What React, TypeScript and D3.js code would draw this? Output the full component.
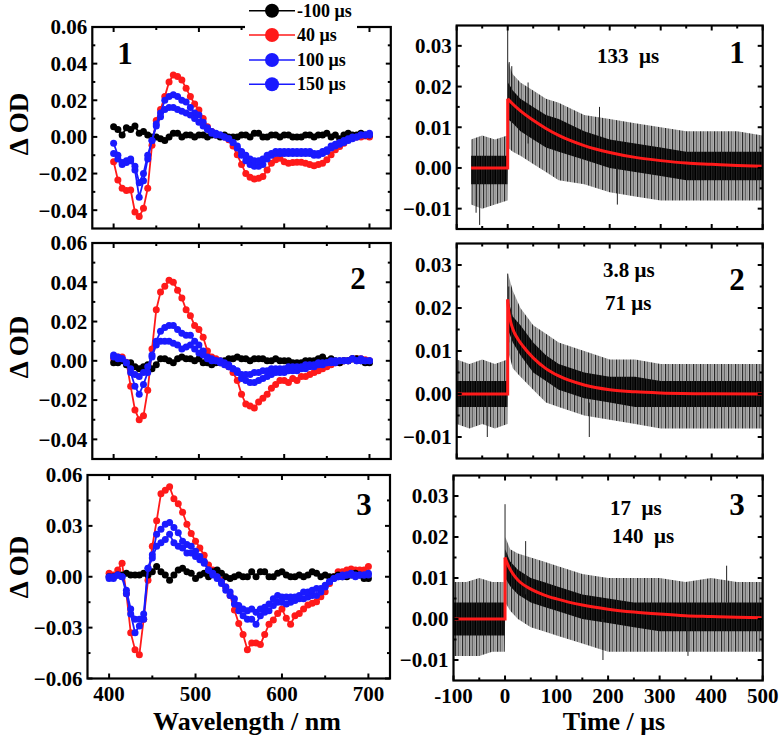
import React from "react";
import * as d3 from "d3";

// ---------------- DATA ----------------
const WAVELENGTHS = [
  400, 405, 410, 415, 420, 425, 430, 435, 440, 445,
  450, 455, 460, 465, 470, 475, 480, 485, 490, 495,
  500, 505, 510, 515, 520, 525, 530, 535, 540, 545,
  550, 555, 560, 565, 570, 575, 580, 585, 590, 595,
  600, 605, 610, 615, 620, 625, 630, 635, 640, 645,
  650, 655, 660, 665, 670, 675, 680, 685, 690, 695,
  700,
];

const DELAY_LABELS = ["-100 μs", "40 μs", "100 μs", "150 μs"];
const DELAY_COLORS = ["#000000", "#ff1a1a", "#1a1aff", "#1a1aff"];

// Panel 1 spectra
const P1_M100 = [
  0.0055, 0.004, 0.001, 0.005, 0.004, 0.006, 0.002, 0.003, 0.001, 0.0,
  0.0, -0.001, -0.002, 0.0, 0.002, 0.002, 0.0, 0.001, 0.001, 0.0,
  0.001, 0.001, 0.0, 0.001, 0.001, 0.0, 0.001, 0.0, 0.0, 0.0,
  0.001, 0.001, 0.0, 0.002, 0.002, 0.0, 0.0, 0.001, 0.001, 0.0,
  0.001, 0.001, 0.0, 0.0, 0.0, 0.001, 0.001, 0.0, 0.001, 0.001,
  0.002, 0.0, 0.001, -0.001, 0.001, 0.002, 0.001, 0.001, 0.002, 0.001,
  0.001,
];
const P1_40 = [
  -0.0135, -0.0235, -0.028, -0.0292, -0.029, -0.041, -0.0435, -0.039, -0.028, -0.0045,
  0.009, 0.015, 0.022, 0.03, 0.0338, 0.033, 0.031, 0.0265, 0.022, 0.018,
  0.0147, 0.01, 0.0056, 0.003, 0.001, 0.0005, 0.0, -0.0016, -0.005, -0.0098,
  -0.015, -0.02, -0.022, -0.023, -0.0225, -0.0216, -0.018, -0.0144, -0.0125, -0.0116,
  -0.0135, -0.0144, -0.014, -0.0138, -0.0138, -0.0144, -0.015, -0.0158, -0.015, -0.0144,
  -0.0125, -0.0098, -0.007, -0.0053, -0.0035, -0.0016, -0.0004, 0.0, 0.0, 0.0005,
  0.0,
];
const P1_100 = [
  -0.009, -0.012, -0.015, -0.014, -0.013, -0.018, -0.033, -0.024, -0.012, -0.002,
  0.007, 0.013, 0.02, 0.022, 0.023, 0.022, 0.02, 0.019, 0.016, 0.013,
  0.012, 0.008, 0.005, 0.003, 0.002, 0.001, 0.0, -0.001, -0.003, -0.006,
  -0.01, -0.013, -0.015, -0.016, -0.016, -0.015, -0.012, -0.01, -0.009, -0.009,
  -0.009, -0.009, -0.009, -0.009, -0.009, -0.009, -0.009, -0.01, -0.01, -0.009,
  -0.008, -0.006, -0.005, -0.004, -0.003, -0.002, -0.001, 0.0, 0.001, 0.001,
  0.002,
];
const P1_150 = [
  -0.0035, -0.01, -0.014, -0.013, -0.012, -0.016, -0.025, -0.02, -0.01, -0.002,
  0.006, 0.011, 0.015, 0.016, 0.016, 0.015, 0.014, 0.013, 0.012, 0.01,
  0.008, 0.006, 0.004, 0.002, 0.001, 0.001, 0.0, -0.001, -0.003, -0.005,
  -0.008, -0.01, -0.012, -0.013, -0.013, -0.012, -0.01, -0.009, -0.008, -0.008,
  -0.008, -0.008, -0.008, -0.008, -0.008, -0.008, -0.008, -0.009, -0.009, -0.008,
  -0.007, -0.005, -0.004, -0.003, -0.002, -0.001, 0.0, 0.0, 0.001, 0.001,
  0.001,
];

// Panel 2 spectra
const P2_M100 = [
  -0.001, -0.001, 0.0, -0.002, -0.001, -0.003, -0.004, -0.003, -0.002, -0.004,
  -0.002, 0.001, 0.001, 0.0, -0.001, 0.001, 0.002, 0.001, 0.001, 0.0,
  0.001, -0.001, -0.001, -0.002, -0.001, -0.001, 0.0, 0.001, 0.001, 0.002,
  0.001, 0.001, 0.0, 0.001, 0.001, 0.001, 0.0, 0.0, 0.001, 0.0,
  0.0, 0.0, -0.001, -0.001, -0.001, 0.0, 0.0, 0.0, 0.001, 0.002,
  0.0, 0.001, 0.0, -0.001, 0.0, 0.0, 0.001, 0.001, 0.0, -0.001,
  -0.001,
];
const P2_40 = [
  0.001, 0.002, 0.002, -0.0007, -0.013, -0.025, -0.03, -0.028, -0.015, 0.006,
  0.026, 0.035, 0.038, 0.041, 0.04, 0.036, 0.032, 0.026, 0.023, 0.018,
  0.016, 0.012, 0.005, 0.002, 0.001, 0.0, -0.001, -0.003, -0.006, -0.01,
  -0.017, -0.022, -0.023, -0.024, -0.021, -0.019, -0.017, -0.014, -0.012, -0.01,
  -0.01, -0.011, -0.009, -0.01, -0.008, -0.008, -0.007, -0.006, -0.005, -0.004,
  -0.003, -0.002, -0.001, -0.001, 0.0, 0.0, 0.001, 0.001, 0.001, 0.0005,
  0.0,
];
const P2_100 = [
  0.003, 0.002, 0.001, -0.001, -0.006, -0.013, -0.017, -0.012, -0.006, 0.002,
  0.01, 0.015, 0.017, 0.018, 0.018, 0.016, 0.014, 0.013, 0.013, 0.01,
  0.008, 0.005, 0.002, 0.001, 0.0, 0.0, -0.001, -0.002, -0.004, -0.006,
  -0.009, -0.01, -0.011, -0.011, -0.01, -0.009, -0.008, -0.007, -0.006, -0.006,
  -0.006, -0.005, -0.005, -0.005, -0.004, -0.004, -0.003, -0.003, -0.002, -0.002,
  -0.001, -0.001, -0.001, 0.0, 0.0, 0.0, 0.001, 0.0, 0.001, 0.0,
  0.0,
];
const P2_150 = [
  0.002, 0.001, 0.001, -0.001, -0.004, -0.007, -0.008, -0.006, -0.003, 0.003,
  0.008, 0.01, 0.01, 0.01, 0.009, 0.008, 0.006, 0.007, 0.008, 0.006,
  0.004, 0.003, 0.001, 0.0, 0.0, -0.001, -0.002, -0.003, -0.004, -0.005,
  -0.007, -0.007, -0.007, -0.006, -0.006, -0.005, -0.005, -0.004, -0.004, -0.004,
  -0.004, -0.003, -0.003, -0.003, -0.003, -0.002, -0.002, -0.002, -0.001, -0.001,
  -0.001, 0.0, 0.0, 0.0, 0.0, 0.0, 0.001, 0.0, 0.0, 0.0,
  0.0,
];

// Panel 3 spectra
const P3_M100 = [
  0.0, 0.0, 0.001, 0.001, 0.002, 0.001, 0.001, 0.001, 0.002, 0.001,
  0.003, 0.006, 0.003, 0.001, -0.002, 0.001, 0.004, 0.005, 0.003, 0.002,
  -0.001, 0.001, 0.002, 0.0, 0.003, 0.004, 0.002, 0.0, -0.001, 0.0,
  0.001, 0.0, 0.0, 0.003, 0.0, 0.003, 0.003, 0.0, 0.0, 0.002,
  0.003, 0.001, 0.0, 0.0, 0.001, 0.0, 0.001, 0.003, 0.002, 0.0,
  0.001, 0.0, 0.0, 0.001, 0.0, 0.0, 0.001, 0.002, 0.001, -0.001,
  -0.001,
];
const P3_40 = [
  0.002, 0.001, 0.004, 0.008, -0.01, -0.033, -0.043, -0.046, -0.025, -0.002,
  0.018, 0.033, 0.049, 0.051, 0.053, 0.046, 0.043, 0.038, 0.031, 0.0255,
  0.021, 0.017, 0.0127, 0.007, 0.004, 0.0016, -0.002, -0.006, -0.011, -0.0196,
  -0.0275, -0.034, -0.043, -0.039, -0.039, -0.04, -0.034, -0.028, -0.0255, -0.0216,
  -0.019, -0.0245, -0.028, -0.023, -0.0216, -0.019, -0.0167, -0.0157, -0.0147, -0.0118,
  -0.0088, -0.004, 0.0, 0.003, 0.003, 0.004, 0.0045, 0.004, 0.004, 0.004,
  0.006,
];
const P3_100 = [
  0.0, -0.001, 0.001, 0.0, -0.01, -0.022, -0.033, -0.029, -0.025, 0.005,
  0.013, 0.025, 0.028, 0.031, 0.032, 0.029, 0.026, 0.021, 0.019, 0.018,
  0.015, 0.012, 0.009, 0.004, 0.001, -0.001, -0.004, -0.008, -0.011, -0.016,
  -0.02, -0.023, -0.025, -0.025, -0.028, -0.023, -0.021, -0.02, -0.017, -0.015,
  -0.015, -0.016, -0.015, -0.014, -0.013, -0.013, -0.012, -0.011, -0.011, -0.009,
  -0.006, -0.003, -0.001, 0.0, 0.0, 0.001, 0.002, 0.001, 0.001, 0.001,
  0.002,
];
const P3_150 = [
  -0.001, 0.0, 0.001, 0.0, -0.008, -0.019, -0.025, -0.025, -0.022, 0.005,
  0.011, 0.018, 0.02, 0.022, 0.025, 0.02, 0.018, 0.017, 0.014, 0.014,
  0.012, 0.01, 0.008, 0.004, 0.002, 0.0, -0.003, -0.006, -0.009, -0.013,
  -0.017, -0.019, -0.02, -0.019, -0.021, -0.019, -0.018, -0.016, -0.013, -0.011,
  -0.012, -0.012, -0.012, -0.012, -0.011, -0.009, -0.009, -0.008, -0.007, -0.007,
  -0.005, -0.003, -0.001, 0.0, 0.001, 0.001, 0.001, 0.0, 0.001, 0.001,
  0.001,
];

// Kinetic traces: noise envelopes (outer extremes + dense core) and fits
const K1_T = [-72, -50, -25, -0.5, 0.5, 10, 25, 50, 75, 100, 150, 200, 250, 300, 350, 400, 450, 500];
const K1_OUT_HI = [0.007, 0.008, 0.007, 0.008, 0.026, 0.023, 0.021, 0.019, 0.017, 0.016, 0.013, 0.012, 0.011, 0.01, 0.009, 0.009, 0.009, 0.008];
const K1_OUT_LO = [-0.009, -0.01, -0.009, -0.008, 0.005, 0.004, 0.003, 0.001, -0.001, -0.003, -0.004, -0.006, -0.007, -0.008, -0.008, -0.008, -0.008, -0.008];
const K1_CORE_HI = [0.003, 0.003, 0.003, 0.003, 0.021, 0.019, 0.017, 0.015, 0.013, 0.012, 0.009, 0.007, 0.006, 0.005, 0.004, 0.004, 0.004, 0.004];
const K1_CORE_LO = [-0.004, -0.004, -0.004, -0.004, 0.012, 0.011, 0.009, 0.007, 0.005, 0.004, 0.002, 0.0, -0.001, -0.002, -0.003, -0.003, -0.003, -0.003];
const K1_SPIKES = [[0, 0.01, 0.035], [-55, -0.014, -0.003], [3, 0.012, 0.026], [8, 0.014, 0.025], [-62, -0.011, 0.0], [215, -0.009, 0.0], [180, 0.004, 0.015], [40, 0.006, 0.021]];
const K1_FIT_T = [-72, 0, 0, 10, 25, 50, 75, 100, 150, 200, 250, 300, 350, 400, 450, 500];
const K1_FIT_V = [0, 0, 0.017, 0.0157, 0.014, 0.0117, 0.0097, 0.008, 0.0055, 0.0038, 0.0026, 0.0018, 0.0012, 0.0009, 0.0006, 0.0004];

const K2_T = [-100, -75, -50, -25, -0.5, 0.5, 10, 25, 50, 75, 100, 150, 200, 250, 300, 350, 400, 450, 500];
const K2_OUT_HI = [0.008, 0.007, 0.008, 0.007, 0.008, 0.028, 0.024, 0.02, 0.016, 0.014, 0.012, 0.01, 0.008, 0.008, 0.007, 0.007, 0.007, 0.007, 0.007];
const K2_OUT_LO = [-0.007, -0.008, -0.007, -0.008, -0.007, 0.01, 0.006, 0.004, 0.001, -0.002, -0.003, -0.005, -0.006, -0.007, -0.008, -0.008, -0.008, -0.008, -0.008];
const K2_CORE_HI = [0.003, 0.003, 0.003, 0.003, 0.003, 0.022, 0.018, 0.016, 0.012, 0.009, 0.007, 0.005, 0.004, 0.004, 0.003, 0.003, 0.003, 0.003, 0.003];
const K2_CORE_LO = [-0.003, -0.003, -0.003, -0.003, -0.003, 0.015, 0.012, 0.009, 0.005, 0.003, 0.001, -0.001, -0.002, -0.003, -0.003, -0.003, -0.003, -0.003, -0.003];
const K2_SPIKES = [[0, 0.01, 0.028], [2, 0.012, 0.025], [160, -0.01, -0.002], [-40, -0.01, 0.0]];
const K2_FIT_T = [-100, 0, 0, 2, 5, 10, 20, 30, 50, 75, 100, 150, 200, 250, 300, 400, 500];
const K2_FIT_V = [0, 0, 0.022, 0.0195, 0.0172, 0.0151, 0.0128, 0.0111, 0.0084, 0.0059, 0.0042, 0.0021, 0.001, 0.0005, 0.00025, 0.00006, 0.00001];

const K3_T = [-100, -75, -50, -25, -0.5, 0.5, 10, 25, 50, 75, 100, 150, 200, 250, 300, 350, 400, 450, 500];
const K3_OUT_HI = [0.009, 0.009, 0.01, 0.009, 0.009, 0.02, 0.017, 0.016, 0.015, 0.014, 0.013, 0.011, 0.01, 0.01, 0.01, 0.009, 0.01, 0.009, 0.009];
const K3_OUT_LO = [-0.009, -0.009, -0.009, -0.008, -0.008, 0.004, 0.002, 0.0, -0.002, -0.003, -0.004, -0.006, -0.008, -0.008, -0.008, -0.008, -0.008, -0.008, -0.008];
const K3_CORE_HI = [0.004, 0.004, 0.004, 0.004, 0.004, 0.017, 0.014, 0.012, 0.01, 0.009, 0.008, 0.006, 0.005, 0.004, 0.004, 0.004, 0.004, 0.004, 0.004];
const K3_CORE_LO = [-0.004, -0.004, -0.004, -0.004, -0.004, 0.01, 0.008, 0.006, 0.004, 0.003, 0.002, 0.0, -0.001, -0.002, -0.003, -0.003, -0.003, -0.003, -0.003];
const K3_SPIKES = [[0, 0.005, 0.028], [40, 0.006, 0.019], [190, -0.01, 0.0], [355, -0.009, 0.0], [430, 0.004, 0.013]];
const K3_FIT_T = [-100, 0, 0, 5, 10, 20, 30, 50, 75, 100, 150, 200, 250, 300, 350, 400, 450, 500];
const K3_FIT_V = [0, 0, 0.015, 0.0134, 0.0121, 0.0102, 0.0089, 0.0073, 0.0059, 0.0049, 0.0034, 0.0024, 0.0017, 0.0012, 0.0008, 0.0006, 0.0004, 0.0003];

const SPEC_X_MAJOR = [400, 500, 600, 700];
const SPEC_X_MINOR = [450, 550, 650];
const SPEC_Y_MAJOR_A = [-0.04, -0.02, 0.0, 0.02, 0.04, 0.06];
const SPEC_Y_MINOR_A = [-0.03, -0.01, 0.01, 0.03, 0.05];
const SPEC_Y_MAJOR_B = [-0.06, -0.03, 0.0, 0.03, 0.06];
const SPEC_Y_MINOR_B = [-0.045, -0.015, 0.015, 0.045];
const KIN_X_MAJOR = [-100, 0, 100, 200, 300, 400, 500];
const KIN_X_MINOR = [-50, 50, 150, 250, 350, 450];
const KIN_Y_MAJOR = [-0.01, 0.0, 0.01, 0.02, 0.03];
const KIN_Y_MINOR = [-0.005, 0.005, 0.015, 0.025];

// ---------------- DRAWING ----------------
const FONT = "'Liberation Serif', 'Times New Roman', serif";
const fmt2 = d3.format(".2f");
const NB = "\u00A0";

type Scale = d3.ScaleLinear<number, number>;

function Axes(props: {
  xs: Scale; ys: Scale; xMajor: number[]; xMinor: number[]; yMajor: number[]; yMinor: number[];
  showX: boolean;
}) {
  const { xs, ys, xMajor, xMinor, yMajor, yMinor, showX } = props;
  const [x0, x1] = xs.range();
  const [y1, y0] = ys.range();
  const M = 5, m = 3;
  const els: React.ReactNode[] = [];
  xMajor.forEach((v, i) => {
    const x = xs(v);
    els.push(<line key={"xb" + i} x1={x} x2={x} y1={y1} y2={y1 - M} />);
    els.push(<line key={"xt" + i} x1={x} x2={x} y1={y0} y2={y0 + M} />);
  });
  xMinor.forEach((v, i) => {
    const x = xs(v);
    els.push(<line key={"xbm" + i} x1={x} x2={x} y1={y1} y2={y1 - m} />);
    els.push(<line key={"xtm" + i} x1={x} x2={x} y1={y0} y2={y0 + m} />);
  });
  yMajor.forEach((v, i) => {
    const y = ys(v);
    els.push(<line key={"yl" + i} x1={x0} x2={x0 + M} y1={y} y2={y} />);
    els.push(<line key={"yr" + i} x1={x1} x2={x1 - M} y1={y} y2={y} />);
  });
  yMinor.forEach((v, i) => {
    const y = ys(v);
    els.push(<line key={"ylm" + i} x1={x0} x2={x0 + m} y1={y} y2={y} />);
    els.push(<line key={"yrm" + i} x1={x1} x2={x1 - m} y1={y} y2={y} />);
  });
  return (
    <g>
      <g stroke="#000" strokeWidth={2}>{els}</g>
      <rect x={x0} y={y0} width={x1 - x0} height={y1 - y0} fill="none" stroke="#000" strokeWidth={2.2} />
      <g fontFamily={FONT} fontWeight="bold" fontSize={21} fill="#000">
        {yMajor.map((v, i) => (
          <text key={"yt" + i} x={x0 - 5} y={ys(v)} dy="0.35em" textAnchor="end">{fmt2(v)}</text>
        ))}
        {showX && xMajor.map((v, i) => (
          <text key={"xtl" + i} x={xs(v)} y={y1 + 22} textAnchor="middle">{String(v)}</text>
        ))}
      </g>
    </g>
  );
}

function SpectrumPanel(props: {
  id: string; x0: number; x1: number; y0: number; y1: number; yDomain: [number, number];
  yMajor: number[]; yMinor: number[]; series: number[][]; showX: boolean;
  label: string; lx: number; ly: number;
}) {
  const { id, x0, x1, y0, y1, yDomain, yMajor, yMinor, series, showX, label, lx, ly } = props;
  const xs = d3.scaleLinear().domain([375, 725]).range([x0, x1]);
  const ys = d3.scaleLinear().domain(yDomain).range([y1, y0]);
  const line = d3.line<number>().x((_, i) => xs(WAVELENGTHS[i])).y((d) => ys(d));
  const order = [1, 0, 2, 3];
  return (
    <g>
      <clipPath id={id}><rect x={x0} y={y0} width={x1 - x0} height={y1 - y0} /></clipPath>
      <g clipPath={`url(#${id})`}>
        {order.map((si) => (
          <g key={si}>
            <path d={line(series[si]) || ""} fill="none" stroke={DELAY_COLORS[si]} strokeWidth={1.8} />
            {series[si].map((v, i) => (
              <circle key={i} cx={xs(WAVELENGTHS[i])} cy={ys(v)} r={3.5} fill={DELAY_COLORS[si]} />
            ))}
          </g>
        ))}
      </g>
      <Axes xs={xs} ys={ys} xMajor={SPEC_X_MAJOR} xMinor={SPEC_X_MINOR} yMajor={yMajor} yMinor={yMinor} showX={showX} />
      <text x={lx} y={ly} fontFamily={FONT} fontWeight="bold" fontSize={31} textAnchor="middle">{label}</text>
    </g>
  );
}

function KineticPanel(props: {
  id: string; x0: number; x1: number; y0: number; y1: number;
  t: number[]; outHi: number[]; outLo: number[]; coreHi: number[]; coreLo: number[];
  spikes: number[][]; fitT: number[]; fitV: number[]; showX: boolean;
  label: string; lx: number; ly: number; notes: { text: string; x: number; y: number }[];
}) {
  const { id, x0, x1, y0, y1, t, outHi, outLo, coreHi, coreLo, spikes, fitT, fitV, showX, label, lx, ly, notes } = props;
  const xs = d3.scaleLinear().domain([-100, 500]).range([x0, x1]);
  const ys = d3.scaleLinear().domain([-0.015, 0.035]).range([y1, y0]);
  const idx = t.map((_, i) => i);
  const outer = d3.area<number>().x((i) => xs(t[i])).y0((i) => ys(outLo[i])).y1((i) => ys(outHi[i]));
  const core = d3.area<number>().x((i) => xs(t[i])).y0((i) => ys(coreLo[i])).y1((i) => ys(coreHi[i]));
  const fitIdx = fitT.map((_, i) => i);
  const base = d3.line<number>().x((i) => xs(fitT[i])).y((i) => ys(fitV[i]));
  const decay = d3.line<number>().x((i) => xs(fitT[i])).y((i) => ys(fitV[i])).curve(d3.curveMonotoneX);
  return (
    <g>
      <clipPath id={id}><rect x={x0} y={y0} width={x1 - x0} height={y1 - y0} /></clipPath>
      <g clipPath={`url(#${id})`}>
        <path d={outer(idx) || ""} fill="url(#noiseHatch)" />
        <path d={core(idx) || ""} fill="url(#noiseDense)" />
        {spikes.map((s, i) => (
          <line key={i} x1={xs(s[0])} x2={xs(s[0])} y1={ys(s[1])} y2={ys(s[2])} stroke="#222" strokeWidth={1} />
        ))}
        <path d={base(fitIdx.slice(0, 3)) || ""} fill="none" stroke="#ff1a1a" strokeWidth={3} />
        <path d={decay(fitIdx.slice(2)) || ""} fill="none" stroke="#ff1a1a" strokeWidth={3} />
      </g>
      <Axes xs={xs} ys={ys} xMajor={KIN_X_MAJOR} xMinor={KIN_X_MINOR} yMajor={KIN_Y_MAJOR} yMinor={KIN_Y_MINOR} showX={showX} />
      <text x={lx} y={ly} fontFamily={FONT} fontWeight="bold" fontSize={31} textAnchor="middle">{label}</text>
      {notes.map((n, i) => (
        <text key={i} x={n.x} y={n.y} fontFamily={FONT} fontWeight="bold" fontSize={21}>{n.text}</text>
      ))}
    </g>
  );
}

export default function App() {
  const legendRows = [10.7, 35, 60, 84.3];
  return (
    <svg width={779} height={737} viewBox="0 0 779 737"
      style={{ position: "absolute", left: 0, top: 0, background: "#fff" }}>
      <defs>
        <pattern id="noiseHatch" width={7} height={6} patternUnits="userSpaceOnUse">
          <rect x={0} y={0} width={0.9} height={6} fill="#111" />
          <rect x={1.4} y={0} width={0.7} height={6} fill="#555" />
          <rect x={2.6} y={0} width={1.1} height={6} fill="#222" />
          <rect x={4.3} y={0} width={0.6} height={6} fill="#666" />
          <rect x={5.5} y={0} width={0.9} height={6} fill="#333" />
        </pattern>
        <pattern id="noiseDense" width={5} height={6} patternUnits="userSpaceOnUse">
          <rect x={0} y={0} width={5} height={6} fill="#3a3a3a" />
          <rect x={0} y={0} width={1.3} height={6} fill="#000" />
          <rect x={1.8} y={0} width={1.0} height={6} fill="#000" />
          <rect x={3.3} y={0} width={1.4} height={6} fill="#000" />
        </pattern>
      </defs>
      <rect x={0} y={0} width={779} height={737} fill="#fff" />

      <SpectrumPanel id="c1" x0={92.3} x1={390.8} y0={27} y1={228.5} yDomain={[-0.05, 0.06]}
        yMajor={SPEC_Y_MAJOR_A} yMinor={SPEC_Y_MINOR_A} series={[P1_M100, P1_40, P1_100, P1_150]}
        showX={false} label="1" lx={125} ly={64} />
      <SpectrumPanel id="c2" x0={92.3} x1={390.8} y0={243} y1={459} yDomain={[-0.05, 0.06]}
        yMajor={SPEC_Y_MAJOR_A} yMinor={SPEC_Y_MINOR_A} series={[P2_M100, P2_40, P2_100, P2_150]}
        showX={false} label="2" lx={358} ly={289} />
      <SpectrumPanel id="c3" x0={87.5} x1={390} y0={475} y1={678.5} yDomain={[-0.06, 0.06]}
        yMajor={SPEC_Y_MAJOR_B} yMinor={SPEC_Y_MINOR_B} series={[P3_M100, P3_40, P3_100, P3_150]}
        showX={true} label="3" lx={364} ly={515} />

      <KineticPanel id="k1" x0={456.7} x1={762.7} y0={25.5} y1={229} t={K1_T} outHi={K1_OUT_HI} outLo={K1_OUT_LO}
        coreHi={K1_CORE_HI} coreLo={K1_CORE_LO} spikes={K1_SPIKES} fitT={K1_FIT_T} fitV={K1_FIT_V}
        showX={false} label="1" lx={737} ly={63} notes={[{ text: `133${NB}${NB}μs`, x: 597, y: 63 }]} />
      <KineticPanel id="k2" x0={456.7} x1={762.7} y0={243.5} y1={458.5} t={K2_T} outHi={K2_OUT_HI} outLo={K2_OUT_LO}
        coreHi={K2_CORE_HI} coreLo={K2_CORE_LO} spikes={K2_SPIKES} fitT={K2_FIT_T} fitV={K2_FIT_V}
        showX={false} label="2" lx={737} ly={290}
        notes={[{ text: "3.8 μs", x: 603, y: 277 }, { text: "71 μs", x: 605, y: 310 }]} />
      <KineticPanel id="k3" x0={453.5} x1={762.7} y0={475.5} y1={680.5} t={K3_T} outHi={K3_OUT_HI} outLo={K3_OUT_LO}
        coreHi={K3_CORE_HI} coreLo={K3_CORE_LO} spikes={K3_SPIKES} fitT={K3_FIT_T} fitV={K3_FIT_V}
        showX={true} label="3" lx={737} ly={515}
        notes={[{ text: `17${NB}${NB}μs`, x: 610, y: 515 }, { text: `140${NB}${NB}μs`, x: 612, y: 543 }]} />

      {/* y-axis titles */}
      {[124, 347, 567].map((cy, i) => (
        <text key={i} transform={`translate(28,${cy}) rotate(-90)`} fontFamily={FONT} fontWeight="bold"
          fontSize={27} textAnchor="middle">Δ OD</text>
      ))}
      {/* x-axis titles */}
      <text x={247} y={730} fontFamily={FONT} fontWeight="bold" fontSize={26} textAnchor="middle">Wavelength / nm</text>
      <text x={614} y={730} fontFamily={FONT} fontWeight="bold" fontSize={26} textAnchor="middle">Time / μs</text>

      {/* legend */}
      <g>
        <rect x={245} y={0} width={112} height={95} fill="#fff" />
        {DELAY_LABELS.map((lab, i) => (
          <g key={i}>
            <line x1={249} x2={295} y1={legendRows[i]} y2={legendRows[i]} stroke={DELAY_COLORS[i]} strokeWidth={1.6} />
            <circle cx={272} cy={legendRows[i]} r={7} fill={DELAY_COLORS[i]} />
            <text x={297} y={legendRows[i] + 6} fontFamily={FONT} fontWeight="bold" fontSize={18}>{lab}</text>
          </g>
        ))}
      </g>
    </svg>
  );
}
